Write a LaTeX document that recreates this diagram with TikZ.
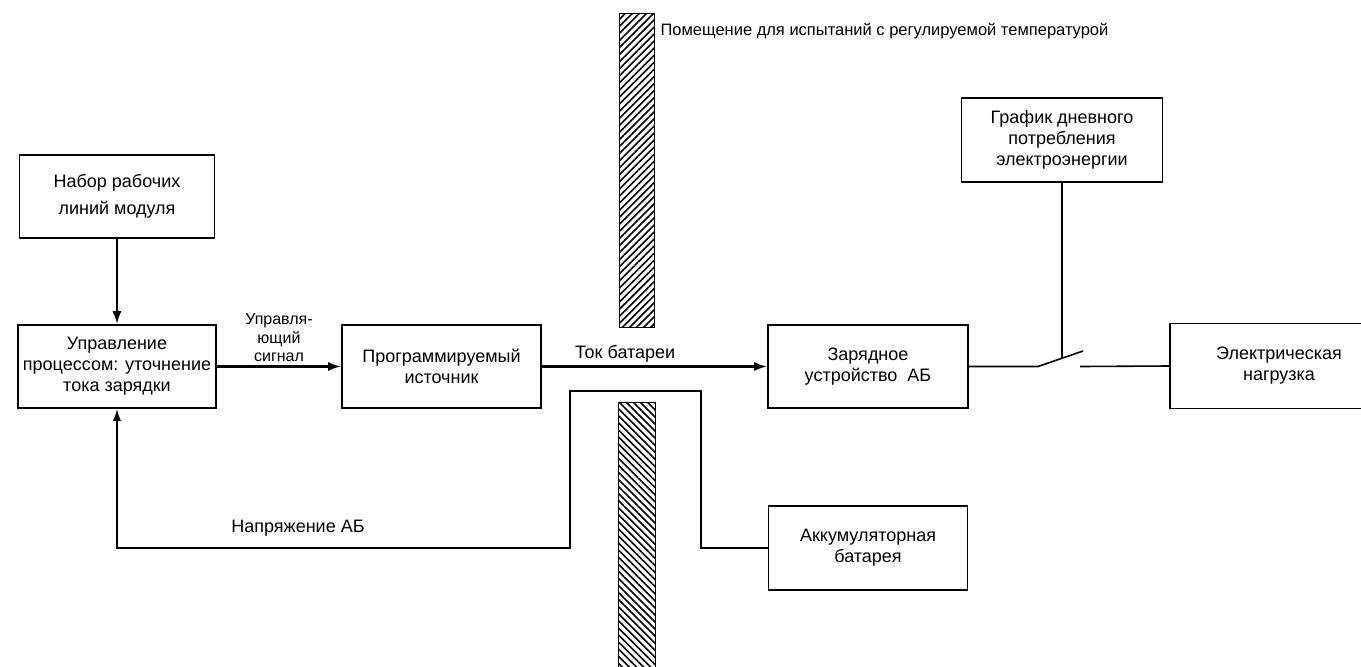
\documentclass[tikz,border=0pt]{standalone}
\usepackage{fontspec}
\setmainfont{Liberation Sans}
\usetikzlibrary{positioning,arrows.meta,patterns.meta}
\begin{document}
\begin{tikzpicture}[x=1pt,y=-1pt,
      every node/.style={font=\fontsize{18}{21}\selectfont},
      block/.style={draw,line width=1.6pt,align=center,minimum width=199pt,minimum height=83pt,inner sep=2pt},
      flow/.style={line width=2.4pt,-{Latex[length=13pt,width=9pt]}},
      feedback/.style={line width=1.8pt,-{Latex[length=12pt,width=8pt]}},
      wire/.style={line width=1.6pt},
      wall/.style={draw,line width=1pt,pattern={Lines[angle=#1,distance=5pt,line width=1.6pt]}}]
    \useasboundingbox (0,0) rectangle (1361,667);
    \node[block,minimum width=195pt,font=\fontsize{18}{27}\selectfont] (nabor) at (117,196.5) {Набор рабочих\\линий модуля};
    \node[block,minimum width=198pt] (upr) at (117,366.5) {Управление\\процессом: уточнение\\тока зарядки};
    \node[block] (prog) at (441.5,366.5) {Программируемый\\источник};
    \node[block,minimum width=200pt] (zar) at (868,366.5) {Зарядное\\устройство~~АБ};
    \node[block,minimum width=201pt,minimum height=84pt] (graf) at (1062,140) {График дневного\\потребления\\электроэнергии};
    \node[block,minimum width=218pt,minimum height=85pt] (nagr) at (1279,366) {Электрическая\\нагрузка};
    \node[block,minimum height=84pt] (akk) at (868,548) {Аккумуляторная\\батарея};
    \draw[wall=45] (619,13) rectangle (654,327);
    \draw[wall=-45] (618,402) rectangle (655,680);
    \node[anchor=west,font=\fontsize{16.5}{20}\selectfont] (room) at (657,31) {Помещение для испытаний с регулируемой температурой};
    \draw[flow] (nabor) -- (upr);
    \draw[flow] (upr) -- node[above,align=center,font=\fontsize{16}{18.5}\selectfont] (signal) {Управля-\\ющий\\сигнал} (prog);
    \draw[flow] (prog) -- node[pos=0.37,above] (tok) {Ток батареи} (zar);
    \coordinate (loopR) at (701,391);
    \coordinate (loopL) at (570,548);
    \draw[feedback] (akk.west) -| (loopR) -| (loopL) -| (upr.south);
    \node (napr) at (298,528) {Напряжение АБ};
    \coordinate (swA) at (1038,366.5);
    \coordinate (swB) at (1083,351);
    \coordinate (swC) at (1080,366.5);
    \coordinate (swM) at (1062,358.5);
    \draw[wire] (zar.east) -- (swA) -- (swB);
    \draw[wire] (swC) -- (nagr.west);
    \draw[wire] (graf.south) -- (swM);
  \end{tikzpicture}
\end{document}
